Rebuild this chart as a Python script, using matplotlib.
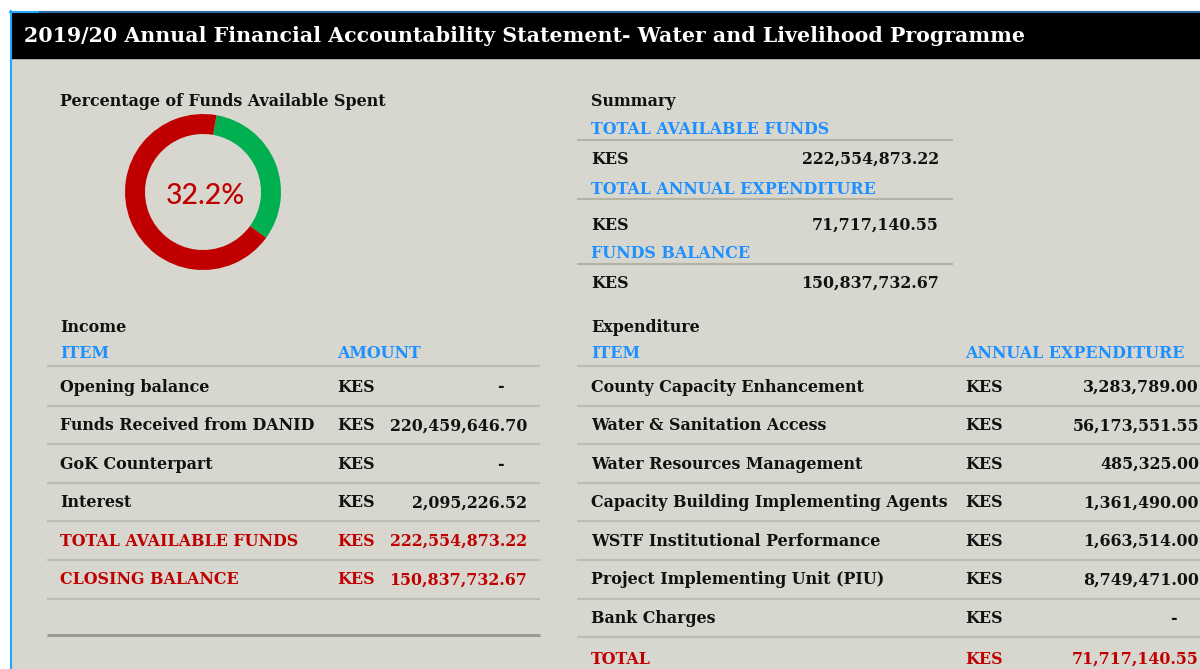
import matplotlib
matplotlib.use("Agg")
import matplotlib.pyplot as plt
from matplotlib.patches import Rectangle

# ---------------- data ----------------
title = "2019/20 Annual Financial Accountability Statement- Water and Livelihood Programme"
currency = "KES"

summary_labels = ["TOTAL AVAILABLE FUNDS", "TOTAL ANNUAL EXPENDITURE", "FUNDS BALANCE"]
summary_values = ["222,554,873.22", "71,717,140.55", "150,837,732.67"]

spent_pct = 32.2
donut_values = [spent_pct, 100 - spent_pct]  # spent, remaining

income_items = ["Opening balance", "Funds Received from DANID", "GoK Counterpart",
                "Interest", "TOTAL AVAILABLE FUNDS", "CLOSING BALANCE"]
income_amounts = ["-", "220,459,646.70", "-", "2,095,226.52",
                  "222,554,873.22", "150,837,732.67"]
income_highlight = [False, False, False, False, True, True]

exp_items = ["County Capacity Enhancement", "Water & Sanitation Access",
             "Water Resources Management", "Capacity Building Implementing Agents",
             "WSTF Institutional Performance", "Project Implementing Unit (PIU)",
             "Bank Charges", "TOTAL"]
exp_amounts = ["3,283,789.00", "56,173,551.55", "485,325.00", "1,361,490.00",
               "1,663,514.00", "8,749,471.00", "-", "71,717,140.55"]
exp_highlight = [False] * 7 + [True]

# ---------------- style ----------------
BG = "#D8D7CF"
BLUE = "#1E90FF"
RED = "#C00000"
GREEN = "#00B050"
BLACK = "#111111"
LINE = "#BDBDB4"
SERIF = ["DejaVu Serif"]
FS = 11.4

W, H = 1200, 669
fig = plt.figure(figsize=(W / 100, H / 100), dpi=100)
fig.patch.set_facecolor("white")
ax = fig.add_axes([0, 0, 1, 1])
ax.set_xlim(0, W)
ax.set_ylim(H, 0)
ax.axis("off")

# background panel and header
ax.add_patch(Rectangle((11, 12), W - 11, H - 12, color=BG, zorder=0))
ax.add_patch(Rectangle((11, 12), W - 11, 46, color="black", zorder=1))
ax.plot([10.5, 10.5], [11, H], color="#1EA8FF", lw=1.5, zorder=2)
ax.plot([10, 40], [11.5, 11.5], color="#1EA8FF", lw=1.5, zorder=2)
ax.plot([40, W], [11.5, 11.5], color="#2E6DA4", lw=1.5, zorder=2)


def txt(x, y, s, color=BLACK, size=FS, ha="left", **kw):
    ax.text(x, y, s, color=color, fontsize=size, ha=ha, va="center",
            family=SERIF, fontweight="bold", **kw)


def hline(x0, x1, y, color=LINE, lw=1.6):
    ax.plot([x0, x1], [y, y], color=color, lw=lw, solid_capstyle="butt", zorder=2)


txt(24, 36, title, color="white", size=14.75)

# ---------------- donut ----------------
txt(60, 101, "Percentage of Funds Available Spent")
dax = fig.add_axes([(203 - 78) / W, 1 - (192 + 78) / H, 156 / W, 156 / H])
dax.pie(donut_values, colors=[GREEN, RED], startangle=80, counterclock=False,
        wedgeprops=dict(width=20 / 78, edgecolor="none"), radius=1.0)
dax.set_aspect("equal")
dax.set_xlim(-1, 1)
dax.set_ylim(-1, 1)
dax.axis("off")
ax.text(205, 196, f"{spent_pct:.1f}%", color=RED, fontsize=20.5, ha="center",
        va="center", family=["Lato", "DejaVu Sans"], fontweight="medium")

# ---------------- summary ----------------
txt(591, 101, "Summary")
sum_label_y = [130, 190, 254]
sum_line_y = [140, 199, 264]
sum_val_y = [159, 225, 283]
for lab, val, ly, liy, vy in zip(summary_labels, summary_values, sum_label_y, sum_line_y, sum_val_y):
    txt(591, ly, lab, color=BLUE)
    hline(577, 953, liy, color="#B3B3A6")
    txt(591, vy, currency)
    txt(939, vy, val, ha="right")

# ---------------- income ----------------
txt(60, 327, "Income")
txt(60, 353, "ITEM", color=BLUE)
txt(337, 353, "AMOUNT", color=BLUE)
hline(47, 540, 366)
row_y0, row_h = 387, 38.6
for i, (item, amt, hl) in enumerate(zip(income_items, income_amounts, income_highlight)):
    y = row_y0 + i * row_h
    c = RED if hl else BLACK
    txt(60, y, item, color=c)
    txt(337, y, currency, color=c)
    if amt == "-":
        txt(504, y, amt, color=c, ha="right")
    else:
        txt(527, y, amt, color=c, ha="right")
    hline(47, 540, y + 18.5)
hline(47, 540, 635, color="#9A9A96", lw=2.2)

# ---------------- expenditure ----------------
txt(591, 327, "Expenditure")
txt(591, 353, "ITEM", color=BLUE)
txt(965, 353, "ANNUAL EXPENDITURE", color=BLUE)
hline(577, W, 366)
for i, (item, amt, hl) in enumerate(zip(exp_items, exp_amounts, exp_highlight)):
    y = row_y0 + i * row_h + (2 if hl else 0)
    c = RED if hl else BLACK
    txt(591, y, item, color=c)
    txt(965, y, currency, color=c)
    if amt == "-":
        txt(1177, y, amt, color=c, ha="right")
    else:
        txt(1199, y, amt, color=c, ha="right")
    if not hl:
        hline(577, W, y + 18.5)

fig.savefig("out.png", dpi=100, facecolor=fig.get_facecolor())
